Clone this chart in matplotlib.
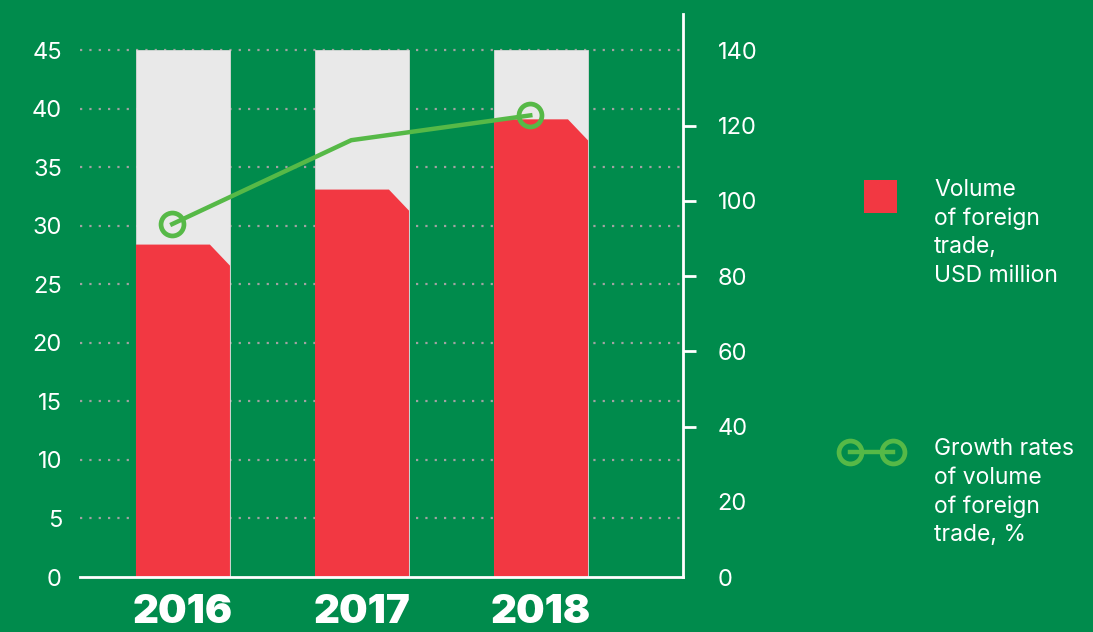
import matplotlib
matplotlib.use('Agg')
import matplotlib.pyplot as plt
from matplotlib.patches import Polygon, Rectangle
from matplotlib.lines import Line2D

YEARS = ['2016', '2017', '2018']
VOLUME = [28.4, 33.1, 39.1]          # USD million
GROWTH = [93.8, 116.1, 122.7]        # %
LEFT_TICKS = [0, 5, 10, 15, 20, 25, 30, 35, 40, 45]
RIGHT_TICKS = [0, 20, 40, 60, 80, 100, 120, 140]

BG = '#008B4C'
RED = '#F23842'
GREY = '#E9E9E9'
LINE = '#56B947'
FONT = 'Inter'

plt.rcParams['font.family'] = [FONT, 'DejaVu Sans']

fig = plt.figure(figsize=(10.93, 6.32), dpi=100, facecolor=BG)
ax = fig.add_axes([80 / 1093, 1 - 577 / 632, 603 / 1093, 563 / 632])
ax.set_facecolor(BG)

top = 45
ax.set_ylim(0, 48.1)
ax.set_xlim(-0.575, 2.793)
xs = list(range(len(YEARS)))
w = 0.525
cut_x, cut_y = 0.112, 1.8

# dotted grid
for t in LEFT_TICKS[1:]:
    ax.axhline(t, color='#A3A3A3', lw=1.6, ls=(0, (1, 3.2)), zorder=0)

# grey background bars + chamfered red bars
ax.bar(xs, [top] * len(xs), width=w, color=GREY, edgecolor='#D9D9D9',
       linewidth=0.6, zorder=1)
for x, v in zip(xs, VOLUME):
    l, r = x - w / 2, x + w / 2
    pts = [(l, 0), (l, v), (r - cut_x, v), (r, v - cut_y), (r, 0)]
    ax.add_patch(Polygon(pts, closed=True, facecolor=RED, edgecolor='none',
                         zorder=2))

for s in ['top', 'left']:
    ax.spines[s].set_visible(False)
ax.spines['bottom'].set_color('white')
ax.spines['bottom'].set_linewidth(2)
ax.spines['right'].set_visible(False)

ax.set_yticks(LEFT_TICKS)
ax.set_yticklabels([str(t) for t in LEFT_TICKS])
ax.tick_params(axis='y', length=0, pad=13, labelcolor='white', labelsize=17)
ax.set_xticks(xs)
ax.set_xticklabels(YEARS, fontsize=29, fontweight='black', color='white')
ax.tick_params(axis='x', length=0, pad=12)

# right axis for growth rates
ax2 = ax.twinx()
ax2.set_ylim(0, 48.1 * 140 / 45)
for s in ['top', 'left', 'bottom']:
    ax2.spines[s].set_visible(False)
ax2.spines['right'].set_color('white')
ax2.spines['right'].set_linewidth(2)
ax2.set_yticks(RIGHT_TICKS)
ax2.set_yticklabels([str(t) for t in RIGHT_TICKS])
ax2.tick_params(axis='y', direction='out', length=9, width=2, color='white',
                pad=16, labelcolor='white', labelsize=17)
for t, tk in zip(RIGHT_TICKS, ax2.yaxis.get_major_ticks()):
    if t in (0, 20, 140):
        tk.tick2line.set_visible(False)

lx = [x - 0.06 for x in xs]
ax2.plot(lx, GROWTH, color=LINE, lw=3.2, marker='o', markevery=[0, 2],
         markersize=16.5, markerfacecolor='none', markeredgecolor=LINE,
         markeredgewidth=3.4, zorder=5, solid_joinstyle='round')

# legend
def fx(px):
    return px / 1093


def fy(py):
    return 1 - py / 632


fig.add_artist(Rectangle((fx(864), fy(213)), fx(33), 33 / 632,
                         facecolor=RED, edgecolor='none',
                         transform=fig.transFigure))
fig.add_artist(Line2D([fx(850), fx(893)], [fy(452), fy(452)], color=LINE,
                      lw=3.2, marker='o', markersize=16.5,
                      markerfacecolor='none', markeredgecolor=LINE,
                      markeredgewidth=3.4, transform=fig.transFigure))

leg1 = ['Volume', 'of foreign', 'trade,', 'USD million']
leg2 = ['Growth rates', 'of volume', 'of foreign', 'trade, %']
for i, s in enumerate(leg1):
    fig.text(fx(934), fy(190 + 28.5 * i), s, color='white', fontsize=16.5,
             va='center', ha='left')
for i, s in enumerate(leg2):
    fig.text(fx(934), fy(449 + 28.7 * i), s, color='white', fontsize=16.5,
             va='center', ha='left')

fig.savefig('out.png', dpi=100, facecolor=BG)
